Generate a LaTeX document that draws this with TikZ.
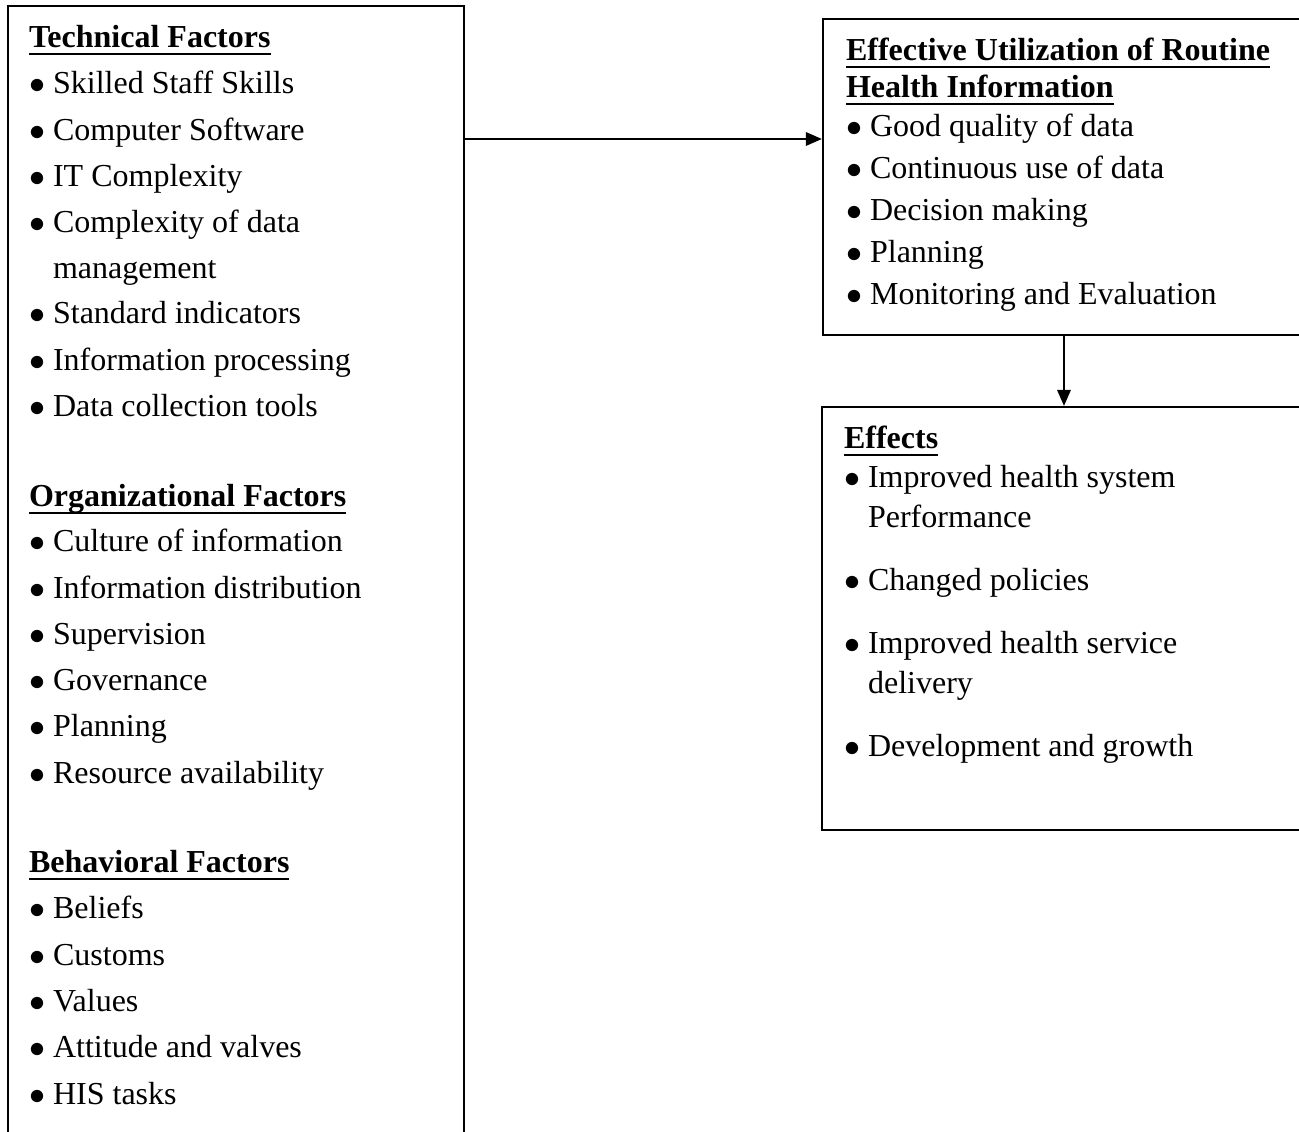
\documentclass[tikz,border=0pt]{standalone}
\usepackage{fontspec}
\setmainfont{Liberation Serif}
\usetikzlibrary{arrows.meta,fit}
\newcommand{\hdline}[1]{\setbox0\hbox{#1}\rlap{\rule[-2.6pt]{\wd0}{0.75pt}}\box0}
\tikzset{
  box/.style={draw, line width=0.8pt, inner sep=0pt},
  txt/.style={anchor=base west, inner sep=0pt, yshift=-1.1pt},
  head/.style={txt, font=\bfseries},
  bul/.style={txt, execute at begin node={\makebox[9pt][l]{$\bullet$}}},
}

\begin{document}
\fontsize{12}{14}\selectfont
\begin{tikzpicture}[x=0.375pt,y=-0.375pt,>={Triangle[length=6pt,width=5pt]},line width=0.8pt]
\useasboundingbox (0,0) rectangle (1299,1132);

% the three boxes (right and bottom edges run off the page)
\node[box, fit={(8,6) (464,1160)}] (factors) {};
\node[box, fit={(823,19) (1330,335)}] (use) {};
\node[box, fit={(822,407) (1330,830)}] (effects) {};

% left box
\node[head] (tech) at (28,45) {\hdline{Technical Factors}};
\foreach \y/\t [count=\i] in {91/Skilled Staff Skills, 138/Computer Software,
    184/IT Complexity, 230/Complexity of data, 321/Standard indicators,
    368/Information processing, 414/Data collection tools}
  \node[bul] (tech-\i) at (28,\y) {\t};
\node[txt] (tech-wrap) at (52,276) {management};

\node[head] (org) at (28,504) {\hdline{Organizational Factors}};
\foreach \y/\t [count=\i] in {549/Culture of information, 596/Information distribution,
    642/Supervision, 688/Governance, 734/Planning, 781/Resource availability}
  \node[bul] (org-\i) at (28,\y) {\t};

\node[head] (beh) at (28,870) {\hdline{Behavioral Factors}};
\foreach \y/\t [count=\i] in {916/Beliefs, 963/Customs, 1009/Values,
    1055/Attitude and valves, 1102/HIS tasks}
  \node[bul] (beh-\i) at (28,\y) {\t};

% top right box
\node[head] (use-h1) at (845,58) {\hdline{Effective Utilization of Routine}};
\node[head] (use-h2) at (845,95) {\hdline{Health Information}};
\foreach \y/\t [count=\i] in {134/Good quality of data, 176/Continuous use of data,
    218/Decision making, 260/Planning, 302/Monitoring and Evaluation}
  \node[bul] (use-\i) at (845,\y) {\t};

% effects box
\node[head] (eff) at (843,446) {\hdline{Effects}};
\foreach \y/\t [count=\i] in {485/Improved health system, 588/Changed policies,
    651/Improved health service, 754/Development and growth}
  \node[bul] (eff-\i) at (843,\y) {\t};
\node[txt] (eff-wrap1) at (867,525) {Performance};
\node[txt] (eff-wrap2) at (867,691) {delivery};

% arrows
\coordinate (y1) at (0,139);
\coordinate (x1) at (1064,0);
\draw[->] (factors.east |- y1) -- (use.west |- y1);
\draw[->] (use.south -| x1) -- (effects.north -| x1);

\end{tikzpicture}
\end{document}
